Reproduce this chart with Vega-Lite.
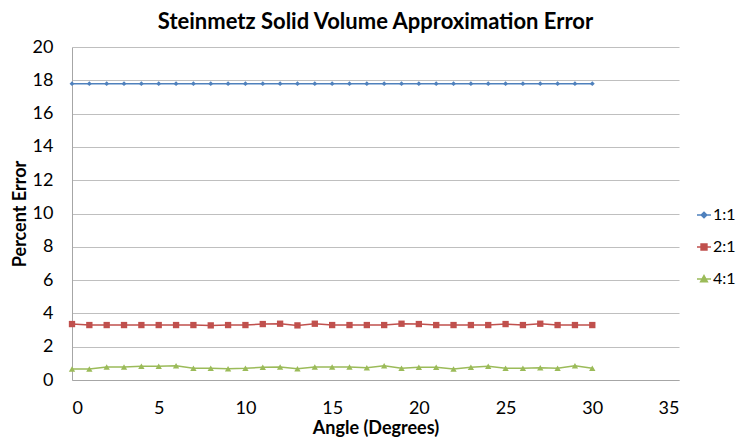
{
  "$schema": "https://vega.github.io/schema/vega-lite/v6.json",
  "autosize": "none",
  "width": 607,
  "height": 333,
  "padding": {"left": 72, "top": 47, "right": 57, "bottom": 63},
  "background": "white",
  "config": {
    "font": "Lato",
    "view": {"stroke": null}
  },
  "title": {
    "text": "Steinmetz Solid Volume Approximation Error",
    "fontSize": 22,
    "fontWeight": "bold",
    "font": "Lato",
    "color": "#000000",
    "anchor": "middle",
    "offset": 4
  },
  "data": {
    "values": [
      {"angle": 0, "ratio": "1:1", "error": 17.8},
      {"angle": 1, "ratio": "1:1", "error": 17.8},
      {"angle": 2, "ratio": "1:1", "error": 17.8},
      {"angle": 3, "ratio": "1:1", "error": 17.8},
      {"angle": 4, "ratio": "1:1", "error": 17.8},
      {"angle": 5, "ratio": "1:1", "error": 17.8},
      {"angle": 6, "ratio": "1:1", "error": 17.8},
      {"angle": 7, "ratio": "1:1", "error": 17.8},
      {"angle": 8, "ratio": "1:1", "error": 17.8},
      {"angle": 9, "ratio": "1:1", "error": 17.8},
      {"angle": 10, "ratio": "1:1", "error": 17.8},
      {"angle": 11, "ratio": "1:1", "error": 17.8},
      {"angle": 12, "ratio": "1:1", "error": 17.8},
      {"angle": 13, "ratio": "1:1", "error": 17.8},
      {"angle": 14, "ratio": "1:1", "error": 17.8},
      {"angle": 15, "ratio": "1:1", "error": 17.8},
      {"angle": 16, "ratio": "1:1", "error": 17.8},
      {"angle": 17, "ratio": "1:1", "error": 17.8},
      {"angle": 18, "ratio": "1:1", "error": 17.8},
      {"angle": 19, "ratio": "1:1", "error": 17.8},
      {"angle": 20, "ratio": "1:1", "error": 17.8},
      {"angle": 21, "ratio": "1:1", "error": 17.8},
      {"angle": 22, "ratio": "1:1", "error": 17.8},
      {"angle": 23, "ratio": "1:1", "error": 17.8},
      {"angle": 24, "ratio": "1:1", "error": 17.8},
      {"angle": 25, "ratio": "1:1", "error": 17.8},
      {"angle": 26, "ratio": "1:1", "error": 17.8},
      {"angle": 27, "ratio": "1:1", "error": 17.8},
      {"angle": 28, "ratio": "1:1", "error": 17.8},
      {"angle": 29, "ratio": "1:1", "error": 17.8},
      {"angle": 30, "ratio": "1:1", "error": 17.8},
      {"angle": 0, "ratio": "2:1", "error": 3.36},
      {"angle": 1, "ratio": "2:1", "error": 3.30},
      {"angle": 2, "ratio": "2:1", "error": 3.30},
      {"angle": 3, "ratio": "2:1", "error": 3.30},
      {"angle": 4, "ratio": "2:1", "error": 3.30},
      {"angle": 5, "ratio": "2:1", "error": 3.30},
      {"angle": 6, "ratio": "2:1", "error": 3.30},
      {"angle": 7, "ratio": "2:1", "error": 3.30},
      {"angle": 8, "ratio": "2:1", "error": 3.28},
      {"angle": 9, "ratio": "2:1", "error": 3.30},
      {"angle": 10, "ratio": "2:1", "error": 3.30},
      {"angle": 11, "ratio": "2:1", "error": 3.36},
      {"angle": 12, "ratio": "2:1", "error": 3.38},
      {"angle": 13, "ratio": "2:1", "error": 3.28},
      {"angle": 14, "ratio": "2:1", "error": 3.38},
      {"angle": 15, "ratio": "2:1", "error": 3.30},
      {"angle": 16, "ratio": "2:1", "error": 3.30},
      {"angle": 17, "ratio": "2:1", "error": 3.30},
      {"angle": 18, "ratio": "2:1", "error": 3.30},
      {"angle": 19, "ratio": "2:1", "error": 3.38},
      {"angle": 20, "ratio": "2:1", "error": 3.36},
      {"angle": 21, "ratio": "2:1", "error": 3.30},
      {"angle": 22, "ratio": "2:1", "error": 3.30},
      {"angle": 23, "ratio": "2:1", "error": 3.30},
      {"angle": 24, "ratio": "2:1", "error": 3.30},
      {"angle": 25, "ratio": "2:1", "error": 3.36},
      {"angle": 26, "ratio": "2:1", "error": 3.30},
      {"angle": 27, "ratio": "2:1", "error": 3.38},
      {"angle": 28, "ratio": "2:1", "error": 3.30},
      {"angle": 29, "ratio": "2:1", "error": 3.30},
      {"angle": 30, "ratio": "2:1", "error": 3.30},
      {"angle": 0, "ratio": "4:1", "error": 0.66},
      {"angle": 1, "ratio": "4:1", "error": 0.66},
      {"angle": 2, "ratio": "4:1", "error": 0.78},
      {"angle": 3, "ratio": "4:1", "error": 0.78},
      {"angle": 4, "ratio": "4:1", "error": 0.82},
      {"angle": 5, "ratio": "4:1", "error": 0.82},
      {"angle": 6, "ratio": "4:1", "error": 0.86},
      {"angle": 7, "ratio": "4:1", "error": 0.70},
      {"angle": 8, "ratio": "4:1", "error": 0.70},
      {"angle": 9, "ratio": "4:1", "error": 0.68},
      {"angle": 10, "ratio": "4:1", "error": 0.70},
      {"angle": 11, "ratio": "4:1", "error": 0.76},
      {"angle": 12, "ratio": "4:1", "error": 0.78},
      {"angle": 13, "ratio": "4:1", "error": 0.68},
      {"angle": 14, "ratio": "4:1", "error": 0.78},
      {"angle": 15, "ratio": "4:1", "error": 0.78},
      {"angle": 16, "ratio": "4:1", "error": 0.78},
      {"angle": 17, "ratio": "4:1", "error": 0.74},
      {"angle": 18, "ratio": "4:1", "error": 0.86},
      {"angle": 19, "ratio": "4:1", "error": 0.70},
      {"angle": 20, "ratio": "4:1", "error": 0.76},
      {"angle": 21, "ratio": "4:1", "error": 0.76},
      {"angle": 22, "ratio": "4:1", "error": 0.66},
      {"angle": 23, "ratio": "4:1", "error": 0.76},
      {"angle": 24, "ratio": "4:1", "error": 0.82},
      {"angle": 25, "ratio": "4:1", "error": 0.70},
      {"angle": 26, "ratio": "4:1", "error": 0.70},
      {"angle": 27, "ratio": "4:1", "error": 0.74},
      {"angle": 28, "ratio": "4:1", "error": 0.70},
      {"angle": 29, "ratio": "4:1", "error": 0.86},
      {"angle": 30, "ratio": "4:1", "error": 0.70}
    ]
  },
  "encoding": {
    "x": {"field": "angle", "type": "quantitative",
      "scale": {"domain": [0, 35]},
      "axis": {"values": [0, 5, 10, 15, 20, 25, 30, 35], "title": "Angle (Degrees)",
        "grid": false, "ticks": false, "domainColor": "#A6A6A6", "labelFontSize": 18,
        "labelColor": "#000000", "titleFontSize": 18, "titleFontWeight": "bold",
        "titleColor": "#000000", "labelPadding": 19, "titlePadding": 2, "labelFont": "Lato", "titleFont": "Lato", "labelOverlap": false}},
    "y": {"field": "error", "type": "quantitative",
      "scale": {"domain": [0, 20]},
      "axis": {"values": [0, 2, 4, 6, 8, 10, 12, 14, 16, 18, 20], "title": "Percent Error",
        "grid": true, "gridColor": "#BFBFBF", "ticks": false, "domainColor": "#A6A6A6",
        "labelFontSize": 18, "labelColor": "#000000", "titleFontSize": 18,
        "titleFontWeight": "bold", "titleColor": "#000000", "labelPadding": 19, "titlePadding": 3, "labelFont": "Lato", "titleFont": "Lato", "labelOverlap": false}},
    "color": {"field": "ratio", "type": "nominal",
      "scale": {"domain": ["1:1", "2:1", "4:1"], "range": ["#4F81BD", "#C0504D", "#9BBB59"]},
      "legend": {"title": null, "orient": "none", "legendX": 624, "legendY": 160,
        "labelFontSize": 16, "labelColor": "#000000", "labelFont": "Lato", "rowPadding": 16, "symbolSize": 196, "labelOffset": 1,
        "encode": {"symbols": {"update": {
          "shape": {"signal": "datum.value === '1:1' ? 'M-1,0H1M0,-0.4L0.4,0L0,0.4L-0.4,0Z' : datum.value === '2:1' ? 'M-1,0H1M-0.42,-0.42H0.42V0.42H-0.42Z' : 'M-1,0H1M0,-0.5L0.48,0.38L-0.48,0.38Z'"},
          "stroke": {"signal": "datum.value === '1:1' ? '#4F81BD' : datum.value === '2:1' ? '#C0504D' : '#9BBB59'"},
          "fill": {"signal": "datum.value === '1:1' ? '#4F81BD' : datum.value === '2:1' ? '#C0504D' : '#9BBB59'"},
          "strokeWidth": {"value": 1.5},
          "opacity": {"value": 1}
        }}}}}
  },
  "layer": [
    {
      "mark": {"type": "line", "strokeWidth": 1.5},
      "encoding": {
        "detail": {"field": "ratio"}
      }
    },
    {
      "transform": [{"filter": {"field": "ratio", "equal": "1:1"}}],
      "mark": {"type": "point", "filled": true, "opacity": 1, "shape": "diamond", "size": 24}
    },
    {
      "transform": [{"filter": {"field": "ratio", "equal": "2:1"}}],
      "mark": {"type": "point", "filled": true, "opacity": 1, "shape": "square", "size": 40}
    },
    {
      "transform": [{"filter": {"field": "ratio", "equal": "4:1"}}],
      "mark": {"type": "point", "filled": true, "opacity": 1, "shape": "triangle-up", "size": 40}
    }
  ]
}
